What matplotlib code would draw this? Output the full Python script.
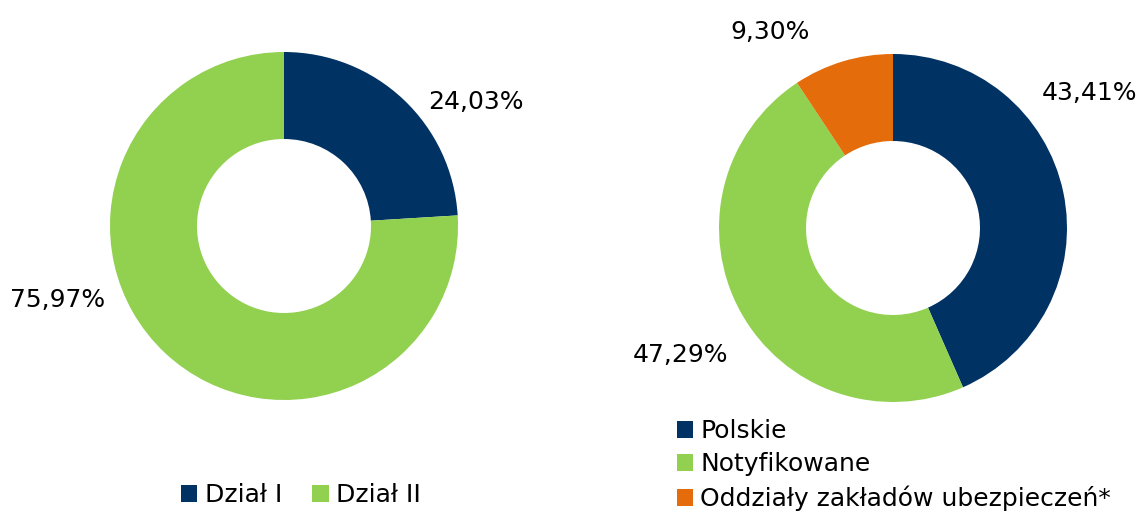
import matplotlib
matplotlib.use("Agg")
import matplotlib.pyplot as plt
from matplotlib.patches import Patch

plt.rcParams['font.family'] = ['DejaVu Sans']

left_labels = ["Dział I", "Dział II"]
left_values = [24.03, 75.97]
right_labels = ["Polskie", "Notyfikowane", "Oddziały zakładów ubezpieczeń*"]
right_values = [43.41, 47.29, 9.30]

navy = "#003263"
green = "#92D050"
orange = "#E46C0A"
left_colors = [navy, green]
right_colors = [navy, green, orange]

W, H = 1144, 516
fig = plt.figure(figsize=(W / 100, H / 100), dpi=100)


def donut_axes(cx, cy, r):
    return fig.add_axes([(cx - r) / W, (H - cy - r) / H, 2 * r / W, 2 * r / H])


def fmt(v):
    return f"{v:.2f}".replace(".", ",") + "%"


FS = 18

axL = donut_axes(284, 226, 174)
axL.pie(left_values, colors=left_colors, startangle=90, counterclock=False,
        radius=1, wedgeprops=dict(width=0.5, linewidth=0))
axL.set_xlim(-1, 1)
axL.set_ylim(-1, 1)
axL.set_aspect('equal')
axL.axis('off')
left_pos = [(1.10, 0.71), (-1.30, -0.425)]
for v, (x, y) in zip(left_values, left_pos):
    axL.text(x, y, fmt(v), ha='center', va='center', fontsize=FS, clip_on=False)

axR = donut_axes(893, 228, 174)
axR.pie(right_values, colors=right_colors, startangle=90, counterclock=False,
        radius=1, wedgeprops=dict(width=0.5, linewidth=0))
axR.set_xlim(-1, 1)
axR.set_ylim(-1, 1)
axR.set_aspect('equal')
axR.axis('off')
right_pos = [(1.13, 0.776), (-1.224, -0.73), (-0.707, 1.126)]
for v, (x, y) in zip(right_values, right_pos):
    axR.text(x, y, fmt(v), ha='center', va='center', fontsize=FS, clip_on=False)

hL = [Patch(facecolor=c, edgecolor='none') for c in left_colors]
fig.legend(hL, left_labels, loc='center', bbox_to_anchor=(301 / W, 1 - 495 / H),
           ncol=2, frameon=False, fontsize=FS, handlelength=0.65, handleheight=0.65,
           handletextpad=0.3, columnspacing=1.2)

hR = [Patch(facecolor=c, edgecolor='none') for c in right_colors]
fig.legend(hR, right_labels, loc='upper left', bbox_to_anchor=(659 / W, 1 - 402 / H),
           ncol=1, frameon=False, fontsize=FS, handlelength=0.65, handleheight=0.65,
           handletextpad=0.3, labelspacing=0.36, borderpad=0.2)

fig.savefig("out.png", dpi=100)
